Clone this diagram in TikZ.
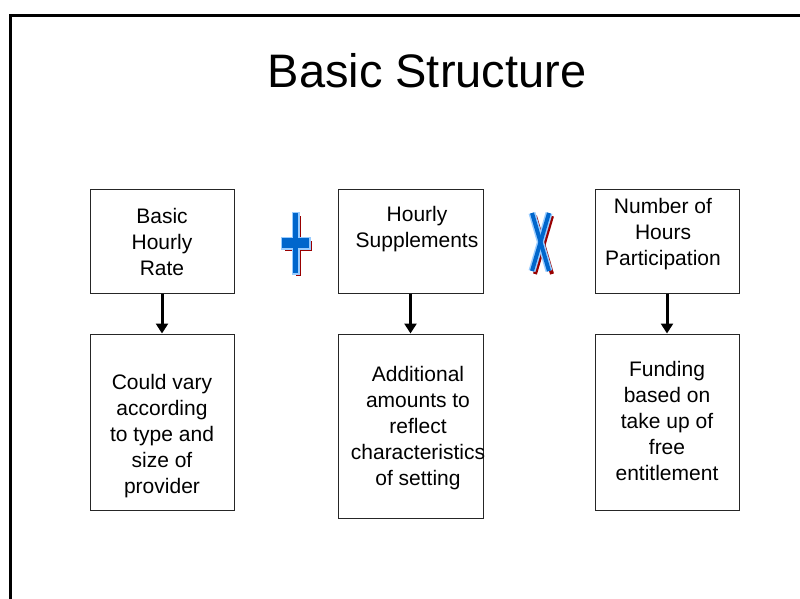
\documentclass[tikz,border=0pt]{standalone}
\usepackage{fontspec}
\setmainfont{Liberation Sans}
\usetikzlibrary{arrows.meta}
\definecolor{plusblue}{HTML}{0066CC}
\definecolor{pluslight}{HTML}{99CCFF}
\definecolor{plusred}{HTML}{990000}
\begin{document}
\begin{tikzpicture}[x=1pt,y=-1pt,
  box/.style={draw=black!85,line width=1pt,inner sep=0pt,minimum width=144pt},
  txt/.style={align=center,font=\fontsize{21}{26}\selectfont,inner sep=0pt},
  arr/.style={line width=3pt,-{Triangle[length=10pt,width=12pt]}}]
\useasboundingbox (0,0) rectangle (800,599);
\fill[white] (0,0) rectangle (800,599);
\draw[line width=3pt] (10,600) -- (10,15.5) -- (801,15.5);
% title
\node[font=\fontsize{47}{56}\selectfont,inner sep=0pt,anchor=base] (title) at (427,88) {Basic Structure};
% upper boxes
\node[box,minimum height=104pt] (b1) at (162,241) {};
\node[box,minimum width=145pt,minimum height=104pt] (b2) at (410.5,241) {};
\node[box,minimum height=104pt] (b3) at (667,241) {};
% lower boxes
\node[box,minimum height=176pt] (l1) at (162,422) {};
\node[box,minimum width=145pt,minimum height=184pt] (l2) at (410.5,426) {};
\node[box,minimum height=176pt] (l3) at (667,422) {};
% texts
\node[txt] (t1) at (162,241.5) {Basic\\Hourly\\Rate};
\node[txt] (t2) at (417,229.5) {Hourly\\Supplements};
\node[txt] (t3) at (663,234) {Number of\\Hours\\Participation};
\node[txt] (u1) at (162,436.5) {Could vary\\according\\to type and\\size of\\provider};
\node[txt] (u2) at (418,428.5) {Additional\\amounts to\\reflect\\characteristics\\of setting};
\node[txt] (u3) at (667,420.5) {Funding\\based on\\take up of\\free\\entitlement};
% arrows
\draw[arr] (b1.south) -- (l1.north);
\draw[arr] (b2.south) -- (l2.north);
\draw[arr] (b3.south) -- (l3.north);
% plus sign
\fill[plusred] (296,216) rectangle (301,276);
\fill[plusred] (285,241) rectangle (312,251);
\draw[pluslight,line width=3pt] (293,213) rectangle (298,273);
\draw[pluslight,line width=3pt] (282,238) rectangle (309,248);
\fill[plusblue] (293,213) rectangle (298,273);
\fill[plusblue] (282,238) rectangle (309,248);
% times sign
\draw[plusred,line width=4pt] (535,216) -- (552,274);
\draw[plusred,line width=4pt] (552,216) -- (535,274);
\draw[pluslight,line width=7pt] (532,213) -- (549,271);
\draw[pluslight,line width=7pt] (549,213) -- (532,271);
\draw[plusblue,line width=4pt] (532,213) -- (549,271);
\draw[plusblue,line width=4pt] (549,213) -- (532,271);
\end{tikzpicture}
\end{document}
